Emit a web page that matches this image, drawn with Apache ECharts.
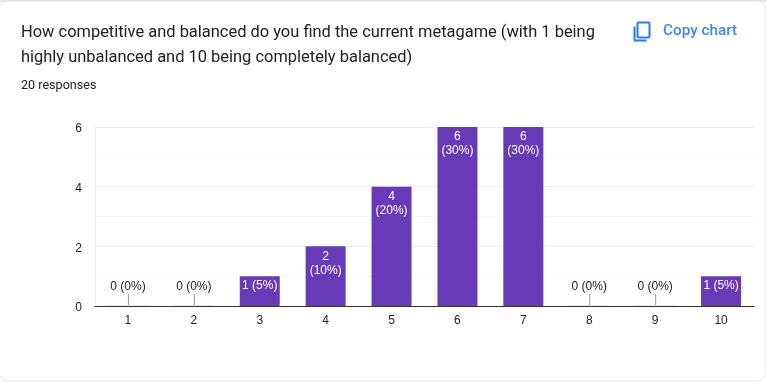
<!DOCTYPE html>
<html>
<head>
<meta charset="utf-8">
<style>html,body{margin:0;padding:0;background:#fff}#c{width:766px;height:383px}</style>
<script src="https://cdn.jsdelivr.net/npm/echarts@6/dist/echarts.min.js"></script>
</head>
<body>
<div id="c"></div>
<script>
const categories = ['1','2','3','4','5','6','7','8','9','10'];
const counts = [0,0,1,2,4,6,6,0,0,1];
const barLabels = ['0 (0%)','0 (0%)','1 (5%)','2\n(10%)','4\n(20%)','6\n(30%)','6\n(30%)','0 (0%)','0 (0%)','1 (5%)'];
const titleLines = 'How competitive and balanced do you find the current metagame (with 1 being\nhighly unbalanced and 10 being completely balanced)';
const subtitle = '20 responses';
const copyLabel = 'Copy chart';
const FONT = 'Roboto, Arial, sans-serif';
const chart = echarts.init(document.getElementById('c'), null, {renderer:'canvas'});
chart.setOption({
  animation:false,
  backgroundColor:'#fff',
  grid:{left:95,top:127,width:659,height:179,containLabel:false},
  xAxis:{type:'category',data:categories,
    axisLine:{lineStyle:{color:'#333',width:1}},axisTick:{show:false},
    axisLabel:{color:'#222',fontFamily:'Liberation Sans, Arial',fontSize:12,margin:9,interval:0}},
  yAxis:{type:'value',min:0,max:6,interval:2,
    axisLine:{show:true,lineStyle:{color:'#ececec'}},axisTick:{show:false},
    axisLabel:{color:'#222',fontFamily:'Liberation Sans, Arial',fontSize:12,margin:13,verticalAlign:'top',lineHeight:4},
    splitLine:{lineStyle:{color:'#ececec',width:1}},
    minorTick:{show:false,splitNumber:2},
    minorSplitLine:{show:true,lineStyle:{color:'#f5f5f5',width:1}}},
  series:[
    {type:'bar',data:counts,barWidth:40,z:3,itemStyle:{color:'#673ab7'},
     label:{show:true,position:'insideTop',distance:3,color:'#fff',fontFamily:'Liberation Sans, Arial',fontSize:12,lineHeight:14,
       formatter:p=>p.value>0?barLabels[p.dataIndex]:''}},
    {type:'custom',z:4,data:counts.map((v,i)=>[i,v]),encode:{x:0,y:1},
     renderItem:(params,api)=>{
       if(api.value(1)!==0) return null;
       const p=api.coord([api.value(0),0]);
       const y=p[1];
       return {type:'group',children:[
         {type:'rect',shape:{x:p[0]-20,y:y-1,width:40,height:1},style:{fill:'#e6e6e6'}},
         {type:'line',shape:{x1:p[0]+.5,y1:y-12,x2:p[0]+.5,y2:y-1},style:{stroke:'#999',lineWidth:1}},
         {type:'text',x:p[0],y:y-19,style:{text:barLabels[api.value(0)],fill:'#222',font:'12px "Liberation Sans", Arial',align:'center',verticalAlign:'middle'}}
       ]};
     }}
  ],
  graphic:[
    {type:'rect',z:-10,silent:true,shape:{x:-1,y:-1,width:768,height:3},style:{fill:'#e3e3ea'}},
    {type:'rect',z:-10,silent:true,shape:{x:-1,y:1,width:767,height:380,r:9},style:{fill:'#fff',stroke:'#e3e3ee',lineWidth:1}},
    {type:'text',left:21,top:20,style:{text:titleLines,fill:'#202124',font:'16.45px '+FONT,lineHeight:25.5}},
    {type:'text',left:21,top:79,style:{text:subtitle,fill:'#202124',font:'12.6px '+FONT}},
    {type:'text',left:663,top:24,style:{text:copyLabel,fill:'#4285f4',font:'500 15.3px '+FONT}},
    {type:'group',left:632,top:20,children:[
      {type:'rect',shape:{x:4,y:1,width:12,height:15,r:1},style:{fill:'none',stroke:'#2a7cf0',lineWidth:2}},
      {type:'polyline',shape:{points:[[1,5],[1,19],[13,19]]},style:{fill:'none',stroke:'#2a7cf0',lineWidth:2}}
    ]}
  ]
});
</script>
</body>
</html>
